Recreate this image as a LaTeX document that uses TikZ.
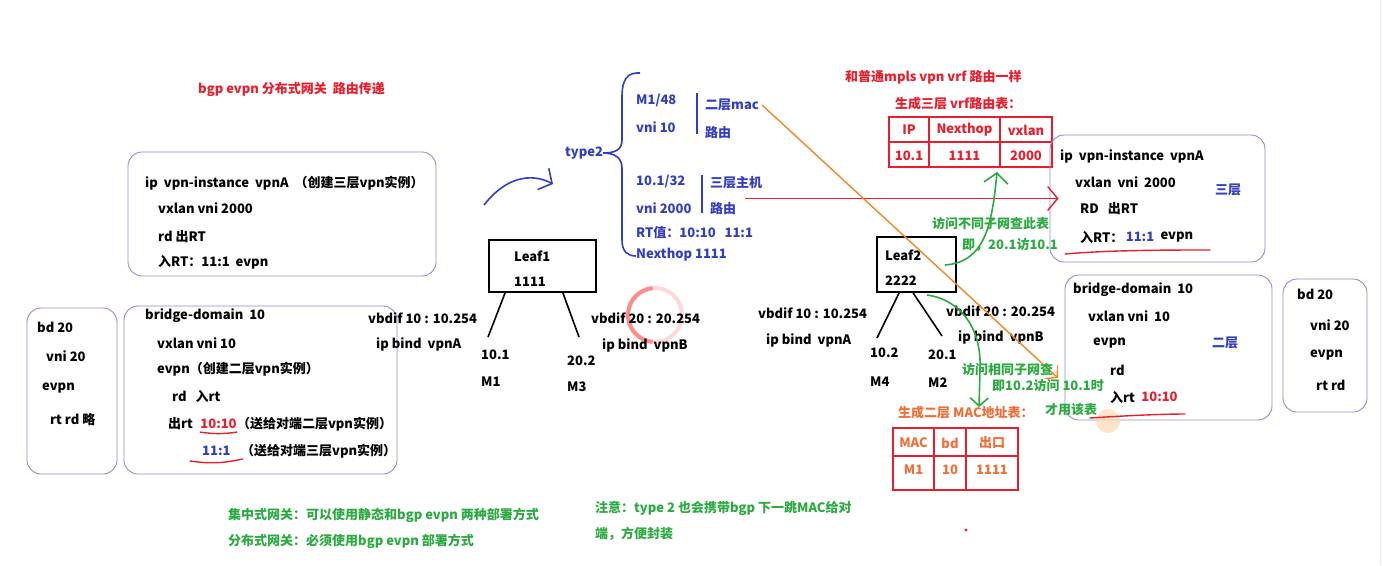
\documentclass[tikz,border=0pt]{standalone}
\usepackage{fontspec}
\setmainfont{Noto Sans CJK SC}
\usetikzlibrary{arrows.meta,calc,positioning}
\definecolor{BoxBlue}{RGB}{140,140,216}
\definecolor{NoteRed}{RGB}{232,30,44}
\definecolor{NoteBlue}{RGB}{50,62,192}
\definecolor{NoteGreen}{RGB}{42,170,64}
\definecolor{PenOrange}{RGB}{246,132,34}
\definecolor{MacOrange}{RGB}{240,110,56}

\begin{document}
\begin{tikzpicture}[x=1pt,y=-1pt,>=Latex,
    txt/.style={anchor=west,inner sep=0pt,font=\bfseries\fontsize{13}{15}\selectfont},
    cell/.style={inner sep=0pt,font=\bfseries\fontsize{13}{15}\selectfont},
    cfgbox/.style={draw=BoxBlue,line width=.9pt,rounded corners=14pt},
    leafbox/.style={draw,line width=1.8pt},
    tbl/.style={draw=NoteRed,line width=1.8pt},
    uline/.style={NoteRed,line width=1.4pt,line cap=round},
    barb/.style={-{Straight Barb[length=10pt,width=24pt]}},
    smallbarb/.style={-{Straight Barb[length=8pt,width=18pt]}}]
  \useasboundingbox (0,0) rectangle (1383,565);
  \draw[gray!15] (1380,0) -- (1380,565);

  % titles
  \node[txt,text=NoteRed] (title) at (198,89) {bgp evpn 分布式网关~~路由传递};
  \node[txt,text=NoteRed] (vrfnote) at (845,77) {和普通mpls vpn vrf 路由一样};
  \node[txt,text=NoteRed] (vrftitle) at (895,104) {生成三层 vrf路由表：};

  % left side
  \node[cfgbox,minimum width=308pt,minimum height=124pt] (vpnL) at (282,214) {};
  \node[cfgbox,minimum width=273pt,minimum height=168pt] (bdL) at (260.5,390) {};
  \node[cfgbox,minimum width=90pt,minimum height=166pt] (bdS) at (72,391) {};
  \foreach \n/\x/\y/\s in {a/145/183/{ip~~vpn-instance~~vpnA~~（创建三层vpn实例）},
      b/158/208/{vxlan vni 2000},c/158/237/{rd 出RT},d/158/262/{入RT：11:1~~evpn}}
    \node[txt] (vpnL\n) at (\x,\y) {\s};
  \foreach \n/\x/\y/\s in {a/145/316/{bridge-domain~~10},b/157/343/{vxlan vni 10},
      c/157/369/{evpn（创建二层vpn实例）},d/172/396/{rd~~~入rt}}
    \node[txt] (bdL\n) at (\x,\y) {\s};
  \node[txt] (outrt) at (168,424) {出rt};
  \node[txt,text=NoteRed,right=7pt of outrt] (rtA) {10:10};
  \node[txt,right=0pt of rtA] (rtAnote) {（送给对端二层vpn实例）};
  \node[txt,text=NoteBlue] (rtB) at (202,451) {11:1};
  \node[txt] (rtBnote) at (241,451) {（送给对端三层vpn实例）};
  \draw[uline] ([yshift=-3pt]rtA.south west) to[bend right=8] ([yshift=-3pt]rtA.south east);
  \draw[uline] ([xshift=-12pt,yshift=-5pt]rtB.south west) to[bend right=10] ([xshift=12pt,yshift=-3pt]rtB.south east);
  \foreach \n/\x/\y/\s in {a/37/327/{bd 20},b/46/356/{vni 20},c/42/388/{evpn},d/50/420/{rt rd 略}}
    \node[txt] (bdS\n) at (\x,\y) {\s};

  % leaf1
  \node[leafbox,minimum width=107pt,minimum height=52pt] (leaf1) at (542.5,266) {};
  \node[txt] (leaf1name) at (514,256) {Leaf1};
  \node[txt] (leaf1id) at (514,282) {1111};
  \coordinate (m1top) at (488,337);
  \coordinate (m3top) at (579,337);
  \draw[line width=1.6pt] ([xshift=17pt]leaf1.south west) -- (m1top);
  \draw[line width=1.6pt] ([xshift=-34pt]leaf1.south east) -- (m3top);
  \node[txt] (vbdif1a) at (368,318) {vbdif 10 : 10.254};
  \node[txt] (bind1a) at (376,344) {ip bind~~vpnA};
  \node[txt] (h1ip) at (481,355) {10.1};
  \node[txt] (h1mac) at (481,382) {M1};
  \node[txt] (h3ip) at (567,361) {20.2};
  \node[txt] (h3mac) at (567,387) {M3};
  \draw[red!15,line width=4pt] (655,315) circle (27);
  \draw[red!45,line width=4pt] (655,315) ++(95:27) arc[start angle=95,end angle=265,radius=27];
  \node[txt] (vbdif1b) at (591,318) {vbdif 20 : 20.254};
  \node[txt] (bind1b) at (602,345) {ip bind~~vpnB};

  % type2 route
  \draw[NoteBlue,line width=1.6pt,barb] (484,205) .. controls (505,178) and (530,172) .. (553,184);
  \node[txt,text=NoteBlue] (type2) at (565,153) {type2};
  \draw[NoteBlue,line width=1.6pt] (640,73) .. controls (620,72) and (622,90) .. (622,110)
    -- (622,140) .. controls (622,150) and (615,153) .. (603,153)
    .. controls (615,153) and (622,158) .. (622,168) -- (622,240)
    .. controls (622,252) and (628,256) .. (636,256);
  \foreach \n/\x/\y/\s in {a/636/100/{M1/48},b/636/127/{vni 10},c/636/181/{10.1/32},
      d/636/208/{vni 2000},e/636/233/{RT值：10:10~~~11:1},f/636/255/{Nexthop 1111}}
    \node[txt,text=NoteBlue] (t2\n) at (\x,\y) {\s};
  \draw[NoteBlue,line width=1.2pt] (697,93) -- (697,134);
  \draw[NoteBlue,line width=1.2pt] (702,175) -- (702,213);
  \node[txt,text=NoteBlue] (l2mac) at (705,105) {二层mac};
  \node[txt,text=NoteBlue] (l2route) at (705,133) {路由};
  \node[txt,text=NoteBlue] (l3host) at (710,183) {三层主机};
  \node[txt,text=NoteBlue] (l3route) at (710,209) {路由};

  % vrf table
  \draw[tbl] (889,117) rectangle (1052,167);
  \draw[tbl] (889,142) -- (1052,142) (929,117) -- (929,167) (1000,117) -- (1000,167);
  \foreach \n/\x/\y/\s in {a/909/130/IP,b/964.5/130/Nexthop,c/1026/130/vxlan,
      d/909/156/10.1,e/964.5/156/1111,f/1026/156/2000}
    \node[cell,text=NoteRed] (vrf\n) at (\x,\y) {\s};

  % leaf2
  \node[leafbox,minimum width=79pt,minimum height=55pt] (leaf2) at (916.5,264.5) {};
  \node[txt] (leaf2name) at (885,255) {Leaf2};
  \node[txt] (leaf2id) at (885,281) {2222};
  \coordinate (m4top) at (877,338);
  \coordinate (m2top) at (942,336);
  \draw[line width=1.6pt] ([xshift=23pt]leaf2.south west) -- (m4top);
  \draw[line width=1.6pt] ([xshift=37pt]leaf2.south west) -- (m2top);
  \node[txt] (vbdif2a) at (758,313) {vbdif 10 : 10.254};
  \node[txt] (bind2a) at (766,340) {ip bind~~vpnA};
  \node[txt] (h4ip) at (870,353) {10.2};
  \node[txt] (h4mac) at (870,382) {M4};
  \node[txt] (h2ip) at (928,355) {20.1};
  \node[txt] (h2mac) at (928,383) {M2};
  \node[txt] (vbdif2b) at (946,311) {vbdif 20 : 20.254};
  \node[txt] (bind2b) at (958,337) {ip bind~~vpnB};

  % right side
  \node[cfgbox,minimum width=215pt,minimum height=127pt] (vpnR) at (1157.5,198.5) {};
  \node[cfgbox,minimum width=207pt,minimum height=145pt] (bdR) at (1168.5,347.5) {};
  \node[cfgbox,minimum width=84pt,minimum height=133pt] (bdT) at (1325,345.5) {};
  \foreach \n/\x/\y/\s in {a/1060/156/{ip~~vpn-instance~~vpnA},b/1075/182/{vxlan~~vni~~2000},
      c/1080/209/{RD~~~出RT}}
    \node[txt] (vpnR\n) at (\x,\y) {\s};
  \node[txt] (inRT) at (1080,237) {入RT：};
  \node[txt,text=NoteBlue,right=2pt of inRT] (inRTval) {11:1};
  \node[txt,right=6pt of inRTval] (inRTevpn) {evpn};
  \draw[uline] (1065,254) .. controls (1110,250) and (1170,250) .. (1210,250);
  \node[txt,text=NoteBlue] (l3tag) at (1215,190) {三层};
  \foreach \n/\x/\y/\s in {a/1073/290/{bridge-domain~~10},b/1088/316/{vxlan vni~~10},
      c/1093/343/{evpn},d/1110/370/{rd}}
    \node[txt] (bdR\n) at (\x,\y) {\s};
  \node[txt] (inrt) at (1110,397) {入rt};
  \node[txt,text=NoteRed,right=6pt of inrt] (inrtval) {10:10};
  \node[txt,text=NoteBlue] (l2tag) at (1212,343) {二层};
  \fill[orange!30,opacity=.7] (1108,421) circle (12);
  \draw[uline] (1090,418) .. controls (1120,416) and (1160,414) .. (1185,414);
  \foreach \n/\x/\y/\s in {a/1297/294/{bd 20},b/1310/325/{vni 20},c/1310/355/{evpn},d/1316/385/{rt rd}}
    \node[txt] (bdT\n) at (\x,\y) {\s};

  % mac table
  \node[txt,text=MacOrange] (mactitle) at (898,413) {生成二层 MAC地址表：};
  \draw[tbl] (893,428) rectangle (1018,490);
  \draw[tbl] (893,456) -- (1018,456) (934,428) -- (934,490) (966,428) -- (966,490);
  \foreach \n/\x/\y/\s in {a/913.5/443/MAC,b/950/443/bd,c/992/443/出口,
      d/913.5/470/M1,e/950/470/10,f/992/470/1111}
    \node[cell,text=MacOrange] (mac\n) at (\x,\y) {\s};

  % arrows
  \coordinate (l3from) at (745,198.5);
  \draw[NoteRed,line width=1.4pt,barb] (l3from) -- ([xshift=9pt]vpnR.west);
  \coordinate (macTo) at (1058,378);
  \draw[PenOrange,line width=1.4pt,smallbarb] ([xshift=3pt]l2mac.east) -- (macTo);
  \coordinate (g1from) at (945,265);
  \coordinate (g1to) at (997,172);
  \draw[NoteGreen,line width=1.6pt,barb] (g1from) .. controls (985,262) and (992,225) .. (g1to);
  \coordinate (g2from) at (927,295);
  \coordinate (g2to) at (979,407);
  \draw[NoteGreen,line width=1.6pt,smallbarb] (g2from) .. controls (962,300) and (982,330) .. (980,370) -- (g2to);
  \node[txt,text=NoteGreen] (diffnet) at (932,224) {访问不同子网查此表};
  \node[txt,text=NoteGreen] (diffex) at (962,245) {即，20.1访10.1};
  \node[txt,text=NoteGreen] (samenet) at (962,370) {访问相同子网查};
  \node[txt,text=NoteGreen] (sameex) at (992,386) {即10.2访问 10.1时};
  \node[txt,text=NoteGreen] (sameuse) at (1045,410) {才用该表};

  % bottom notes
  \node[txt,text=NoteGreen] (cgw) at (228,515) {集中式网关：可以使用静态和bgp evpn 两种部署方式};
  \node[txt,text=NoteGreen] (dgw) at (228,541) {分布式网关：必须使用bgp evpn 部署方式};
  \node[txt,text=NoteGreen] (note1) at (595,508) {注意：type 2 也会携带bgp 下一跳MAC给对};
  \node[txt,text=NoteGreen] (note2) at (595,534) {端，方便封装};
  \fill[NoteRed] (966,530) circle (1.6);
\end{tikzpicture}
\end{document}
